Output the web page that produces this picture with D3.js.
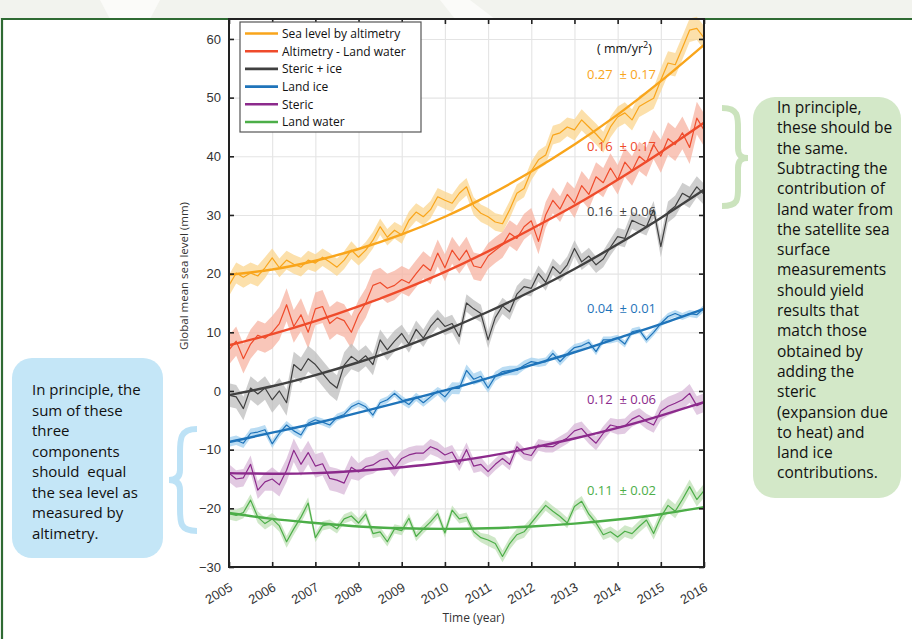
<!DOCTYPE html>
<html>
<head>
<meta charset="utf-8">
<script src="https://cdn.jsdelivr.net/npm/d3@7/dist/d3.min.js"></script>
<style>
  body { margin: 0; background: #fff; }
  svg { display: block; font-family: 'Open Sans', 'Noto Sans', sans-serif; }
</style>
</head>
<body>
<svg class="chart"></svg>
<script>
// ---- data ----
const yearTicks = [2005, 2006, 2007, 2008, 2009, 2010, 2011, 2012, 2013, 2014, 2015, 2016];
const levelTicks = [-30, -20, -10, 0, 10, 20, 30, 40, 50, 60];

const seriesNames = ['Sea level by altimetry', 'Altimetry - Land water', 'Steric + ice', 'Land ice', 'Steric', 'Land water'];
const seriesColors = ['#f9a51b', '#ef4b2b', '#404040', '#1f74ba', '#8c2a8c', '#4cae48'];
const bandColors = ['#fbd58f', '#f7b3a1', '#bdbdbd', '#a3d0ef', '#d8b8d8', '#bfe0b5'];
const rateLabels = ['0.27  \u00b1 0.17', '0.16  \u00b1 0.17', '0.16  \u00b1 0.06', '0.04  \u00b1 0.01', '0.12  \u00b1 0.06', '0.11  \u00b1 0.02'];

// two-monthly values, 2005.0 .. 2016.0 (mm)
const seaLevel = [18.0, 20.1, 19.4, 20.1, 19.6, 21.0, 22.7, 21.0, 22.3, 21.6, 21.1, 22.3,
  21.8, 22.8, 22.0, 21.1, 22.3, 24.0, 22.8, 24.0, 25.7, 28.0, 26.2, 27.4,
  26.6, 29.1, 30.5, 29.7, 30.9, 33.1, 32.5, 32.0, 33.7, 34.8, 31.5, 30.3,
  29.7, 28.8, 28.5, 30.9, 33.7, 34.5, 37.5, 39.4, 40.2, 43.6, 44.0, 45.0,
  44.5, 46.2, 45.0, 43.8, 42.4, 45.0, 46.7, 47.4, 46.2, 48.5, 49.2, 49.9,
  53.0, 55.9, 55.6, 58.5, 61.5, 61.8, 60.2];
const altMinusLand = [7.0, 8.5, 5.5, 8.0, 9.5, 9.0, 10.0, 11.5, 14.7, 11.0, 13.0, 10.0,
  14.0, 14.4, 11.5, 12.5, 12.0, 10.0, 13.0, 15.0, 18.0, 18.5, 17.5, 18.0,
  19.0, 18.4, 20.0, 21.5, 20.5, 23.5, 21.0, 24.0, 22.3, 24.0, 21.3, 21.0,
  23.0, 24.0, 24.9, 26.9, 26.0, 28.0, 29.0, 25.5, 30.0, 32.5, 31.0, 33.5,
  32.0, 35.0, 33.5, 36.5, 35.5, 38.0, 36.0, 39.0, 37.5, 40.0, 39.0, 42.0,
  40.0, 43.0, 42.0, 44.0, 41.5, 46.5, 44.5];
const stericIce = [-0.7, -1.0, -3.0, 0.5, -0.5, 0.5, -1.5, 0.0, -2.0, 4.5, 3.5, 5.5,
  4.5, 3.0, 1.5, 0.5, 4.4, 5.9, 5.0, 6.0, 4.5, 8.7, 7.0, 8.5,
  9.8, 8.0, 10.5, 9.0, 11.0, 12.4, 11.0, 11.5, 9.3, 15.0, 14.0, 13.2,
  8.7, 12.5, 14.5, 13.5, 16.5, 17.8, 17.5, 20.0, 18.5, 21.2, 20.0, 21.5,
  24.3, 22.0, 23.0, 21.5, 22.5, 24.5, 26.3, 26.0, 29.1, 28.5, 28.0, 30.9,
  24.6, 30.5, 31.5, 33.7, 33.0, 34.8, 33.5];
const landIce = [-8.7, -8.4, -8.9, -7.2, -7.0, -6.6, -9.0, -7.2, -5.8, -6.8, -7.5, -5.5,
  -4.9, -5.3, -5.8, -4.5, -4.0, -2.7, -2.1, -2.7, -4.1, -2.0, -1.5, -0.4,
  -1.5, -2.3, -1.0, -2.0, -1.0, 0.0, -1.0, 0.5, 0.45, 3.5, 2.0, 2.5,
  0.5, 2.5, 3.3, 3.5, 3.5, 4.4, 5.0, 4.8, 5.0, 6.4, 5.0, 6.3,
  7.4, 7.7, 8.3, 6.7, 8.7, 8.7, 9.0, 8.0, 10.1, 10.4, 8.7, 10.0,
  11.5, 12.7, 13.2, 12.7, 13.2, 13.0, 14.1];
const steric = [-14.0, -15.0, -14.8, -12.5, -16.9, -15.5, -15.0, -16.0, -13.5, -10.1, -12.5, -10.5,
  -12.8, -12.4, -14.9, -15.2, -15.7, -13.0, -13.8, -12.9, -12.6, -11.8, -11.5, -13.1,
  -11.5, -10.9, -10.6, -10.6, -9.5, -10.0, -10.9, -10.4, -12.5, -10.0, -12.8, -12.5,
  -13.75, -12.5, -11.5, -12.5, -9.5, -10.7, -11.0, -9.2, -9.5, -9.5, -8.7, -8.0,
  -6.8, -6.4, -7.8, -8.9, -7.2, -5.8, -6.1, -6.0, -4.8, -4.2, -5.2, -5.8,
  -3.4, -2.6, -2.1, -1.5, -0.4, -2.5, -2.0];
const landWater = [-20.9, -21.2, -20.7, -18.6, -21.5, -22.6, -21.8, -23.0, -25.7, -23.5, -21.5, -19.1,
  -25.0, -23.0, -22.7, -23.5, -21.8, -21.3, -22.5, -21.0, -24.3, -24.0, -25.7, -23.5,
  -23.8, -21.7, -24.8, -23.5, -22.3, -20.9, -24.2, -20.3, -21.8, -21.5, -24.0, -25.0,
  -25.4, -26.0, -28.2, -26.0, -24.5, -24.0, -22.5, -21.0, -19.5, -20.5, -21.4, -22.5,
  -19.7, -18.8, -21.0, -22.5, -24.5, -24.0, -24.9, -23.9, -24.3, -23.1, -22.0, -24.3,
  -21.5, -19.5, -20.5, -18.5, -16.3, -18.5, -17.0];

// quadratic fit read at each 1 Jan, 2005 .. 2016
const seaLevelFit = [19.8, 20.7, 22.2, 24.2, 26.7, 29.7, 33.3, 37.4, 42.0, 47.1, 52.8, 59.0];
const altMinusLandFit = [7.8, 9.7, 11.9, 14.4, 17.2, 20.3, 23.8, 27.6, 31.6, 36.0, 40.7, 45.7];
const stericIceFit = [-0.7, 0.8, 2.7, 4.9, 7.4, 10.3, 13.5, 17.0, 20.8, 25.0, 29.5, 34.3];
const landIceFit = [-8.7, -7.1, -5.5, -3.7, -1.8, 0.1, 2.2, 4.4, 6.6, 9.0, 11.4, 14.0];
const stericFit = [-14.0, -14.1, -14.0, -13.6, -13.0, -12.2, -11.1, -9.7, -8.1, -6.3, -4.2, -1.9];
const landWaterFit = [-20.8, -21.8, -22.5, -23.1, -23.4, -23.5, -23.4, -23.1, -22.6, -21.9, -21.0, -19.8];

// uncertainty half-width for each calendar year 2005 .. 2015 (mm)
const seaLevelErr = [1.8, 1.6, 1.5, 1.4, 1.5, 1.5, 1.5, 1.6, 1.8, 1.8, 2.0];
const altMinusLandErr = [2.5, 2.8, 2.8, 2.5, 2.3, 2.3, 2.2, 2.2, 2.5, 2.5, 2.8];
const stericIceErr = [2.0, 2.2, 2.2, 1.8, 1.5, 1.5, 1.4, 1.4, 1.4, 1.5, 1.8];
const landIceErr = [0.8, 0.7, 0.6, 0.6, 0.7, 1.0, 0.8, 0.7, 0.6, 0.6, 0.6];
const stericErr = [1.5, 2.0, 2.0, 1.5, 1.3, 1.2, 1.0, 1.0, 1.2, 1.3, 1.6];
const landWaterErr = [1.0, 1.0, 0.8, 0.8, 0.8, 0.8, 1.0, 0.9, 0.9, 1.0, 1.2];

const greenNote = ['In principle,', 'these should be', 'the same.', 'Subtracting the', 'contribution of',
  'land water from', 'the satellite sea', 'surface', 'measurements', 'should yield', 'results that',
  'match those', 'obtained by', 'adding the', 'steric', '(expansion due', 'to heat) and', 'land ice', 'contributions.'];
const blueNote = ['In principle, the', 'sum of these', 'three', 'components', 'should  equal',
  'the sea level as', 'measured by', 'altimetry.'];

function chart() {
  const svg = d3.select('.chart')
    .attr('width', 912)
    .attr('height', 639)

  const margin = {top: 19, right: 208, bottom: 72, left: 229}
  const innerWidth = 912 - margin.left - margin.right
  const innerHeight = 639 - margin.top - margin.bottom

  // page background
  svg.append('rect').attr('width', 912).attr('height', 639).attr('fill', '#fff')
  svg.append('rect').attr('width', 912).attr('height', margin.top).attr('fill', '#f2f3ee')
  svg.append('path').attr('d', 'M100,0 L160,0 L150,19 L110,19 Z').attr('fill', '#fbfbf9')
  svg.append('path').attr('d', 'M440,0 L470,0 L495,19 L455,19 Z').attr('fill', '#fbfbf9')
  // dark green page frame
  svg.append('path')
    .attr('d', `M2,639 L2,${margin.top} L912,${margin.top}`)
    .attr('fill', 'none').attr('stroke', '#2f6a33').attr('stroke-width', 2.2)

  const g = svg.append('g')
    .attr('transform', `translate(${margin.left}, ${margin.top})`)

  g.append('rect').attr('width', innerWidth).attr('height', innerHeight).attr('fill', '#fff')

  //scale
  const xScale = d3.scaleLinear().domain([2005, 2016]).range([0, innerWidth])
  const yScale = d3.scaleLinear().domain([-30, 63.4]).range([innerHeight, 0])

  //grid
  g.append('g')
    .attr('transform', `translate(0, ${innerHeight})`)
    .call(d3.axisBottom(xScale).tickValues(yearTicks.slice(1, -1)).tickSize(-innerHeight).tickFormat(''))
    .call(s => s.select('.domain').remove())
    .selectAll('line').attr('stroke', '#e4e4e4').attr('stroke-width', 1.1)
  g.append('g')
    .call(d3.axisLeft(yScale).tickValues(levelTicks.slice(1)).tickSize(-innerWidth).tickFormat(''))
    .call(s => s.select('.domain').remove())
    .selectAll('line').attr('stroke', '#e4e4e4').attr('stroke-width', 1.1)

  const series = [
    {vals: seaLevel, fit: seaLevelFit, err: seaLevelErr},
    {vals: altMinusLand, fit: altMinusLandFit, err: altMinusLandErr},
    {vals: stericIce, fit: stericIceFit, err: stericIceErr},
    {vals: landIce, fit: landIceFit, err: landIceErr},
    {vals: steric, fit: stericFit, err: stericErr},
    {vals: landWater, fit: landWaterFit, err: landWaterErr}
  ]
  const timeOf = i => 2005 + i / 6
  const errOf = (s, i) => s.err[Math.min(s.err.length - 1, Math.floor(i / 6))]

  const band = d3.area()
    .x(d => xScale(d.t))
    .y0(d => yScale(d.v - d.e))
    .y1(d => yScale(d.v + d.e))
  const line = d3.line()
    .x(d => xScale(d.t))
    .y(d => yScale(d.v))
  const fitLine = d3.line()
    .x((d, i) => xScale(yearTicks[i]))
    .y(d => yScale(d))
    .curve(d3.curveNatural)

  const plot = g.append('g')
  series.forEach((s, k) => {
    const pts = s.vals.map((v, i) => ({t: timeOf(i), v: v, e: errOf(s, i)}))
    plot.append('path').datum(pts)
      .attr('d', band)
      .attr('fill', bandColors[k]).attr('fill-opacity', 0.75)
    plot.append('path').datum(pts)
      .attr('d', line)
      .attr('fill', 'none').attr('stroke', seriesColors[k]).attr('stroke-width', 1.2)
      .attr('stroke-linejoin', 'round')
  })
  series.forEach((s, k) => {
    plot.append('path').datum(s.fit)
      .attr('d', fitLine)
      .attr('fill', 'none').attr('stroke', seriesColors[k]).attr('stroke-width', 2.4)
  })

  //axes (ticks pointing inward, MATLAB style)
  const xAxisG = g.append('g').attr('transform', `translate(0, ${innerHeight})`)
  xAxisG.call(d3.axisBottom(xScale).tickValues(yearTicks).tickSize(-5).tickFormat(d3.format('d')))
  xAxisG.select('.domain').remove()
  xAxisG.selectAll('line').attr('stroke', '#222').attr('stroke-width', 1.6)
  xAxisG.selectAll('text')
    .attr('x', 0).attr('y', 0).attr('dy', 0)
    .attr('transform', 'translate(4, 23) rotate(-30)')
    .attr('text-anchor', 'end')
    .attr('fill', '#333').style('font-size', '13px')

  const topG = g.append('g')
  topG.call(d3.axisTop(xScale).tickValues(yearTicks).tickSize(-5).tickFormat(''))
  topG.select('.domain').remove()
  topG.selectAll('line').attr('stroke', '#222').attr('stroke-width', 1.6)

  const yAxisG = g.append('g')
  yAxisG.call(d3.axisLeft(yScale).tickValues(levelTicks).tickSize(-5).tickPadding(8))
  yAxisG.select('.domain').remove()
  yAxisG.selectAll('line').attr('stroke', '#222').attr('stroke-width', 1.6)
  yAxisG.selectAll('text').attr('fill', '#333').style('font-size', '13px')

  const rightG = g.append('g').attr('transform', `translate(${innerWidth}, 0)`)
  rightG.call(d3.axisRight(yScale).tickValues(levelTicks).tickSize(-5).tickFormat(''))
  rightG.select('.domain').remove()
  rightG.selectAll('line').attr('stroke', '#222').attr('stroke-width', 1.6)

  g.append('rect')
    .attr('width', innerWidth).attr('height', innerHeight)
    .attr('fill', 'none').attr('stroke', '#222').attr('stroke-width', 2)

  // axis titles
  g.append('text')
    .attr('x', innerWidth / 2 + 7).attr('y', innerHeight + 55)
    .attr('text-anchor', 'middle').attr('fill', '#333').style('font-size', '12px')
    .text('Time (year)')
  g.append('text')
    .attr('transform', `translate(-41, ${innerHeight / 2 - 17}) rotate(-90)`)
    .attr('text-anchor', 'middle').attr('fill', '#333').style('font-size', '11.5px')
    .text('Global mean sea level (mm)')

  //legend
  const lg = g.append('g').attr('transform', 'translate(11, 3)')
  lg.append('rect').attr('width', 181).attr('height', 110)
    .attr('fill', '#fff').attr('stroke', '#555').attr('stroke-width', 1.2)
  seriesNames.forEach((name, k) => {
    const yy = 11.5 + k * 17.7
    lg.append('line').attr('x1', 5).attr('x2', 38).attr('y1', yy).attr('y2', yy)
      .attr('stroke', seriesColors[k]).attr('stroke-width', 2.6)
    lg.append('text').attr('x', 42).attr('y', yy).attr('dy', '0.36em')
      .attr('fill', '#111').style('font-size', '12px').text(name)
  })

  // acceleration labels
  const rateX = 358
  const rateY = [60, 132, 197, 294, 385, 476]
  g.append('text').attr('x', rateX + 10).attr('y', 34).attr('fill', '#111').style('font-size', '12.5px')
    .call(t => {
      t.append('tspan').text('( mm/yr')
      t.append('tspan').attr('dy', -5).style('font-size', '9px').text('2')
      t.append('tspan').attr('dy', 5).text(')')
    })
  rateLabels.forEach((lab, k) => {
    g.append('text').attr('x', rateX).attr('y', rateY[k])
      .attr('fill', seriesColors[k]).style('font-size', '13px')
      .style('white-space', 'pre')
      .text(lab)
  })

  // notes
  const notes = svg.append('g')
  notes.append('rect').attr('x', 753).attr('y', 97).attr('width', 148).attr('height', 401)
    .attr('rx', 22).attr('fill', '#d3e8c8')
  notes.append('path')
    .attr('d', 'M722,108 C740,108 738,118 738,135 L738,148 C738,156 742,158 748,158 C742,158 738,160 738,168 L738,182 C738,198 740,206 722,206')
    .attr('fill', 'none').attr('stroke', '#cbe3bd').attr('stroke-width', 6)
  greenNote.forEach((s, i) => {
    notes.append('text').attr('x', 777).attr('y', 113 + i * 20.3)
      .attr('fill', '#111').style('font-size', '15.5px').style('white-space', 'pre').text(s)
  })

  notes.append('rect').attr('x', 12).attr('y', 358).attr('width', 151).attr('height', 200)
    .attr('rx', 20).attr('fill', '#c4e6f7')
  notes.append('path')
    .attr('d', 'M197,429 C179,429 180,440 180,456 L180,470 C180,477 176,480 169,480 C176,480 180,483 180,490 L180,505 C180,522 179,531 197,531')
    .attr('fill', 'none').attr('stroke', '#bde2f6').attr('stroke-width', 6)
  blueNote.forEach((s, i) => {
    notes.append('text').attr('x', 32).attr('y', 395 + i * 20.5)
      .attr('fill', '#111').style('font-size', '15px').style('white-space', 'pre').text(s)
  })
}
chart()
</script>
</body>
</html>
